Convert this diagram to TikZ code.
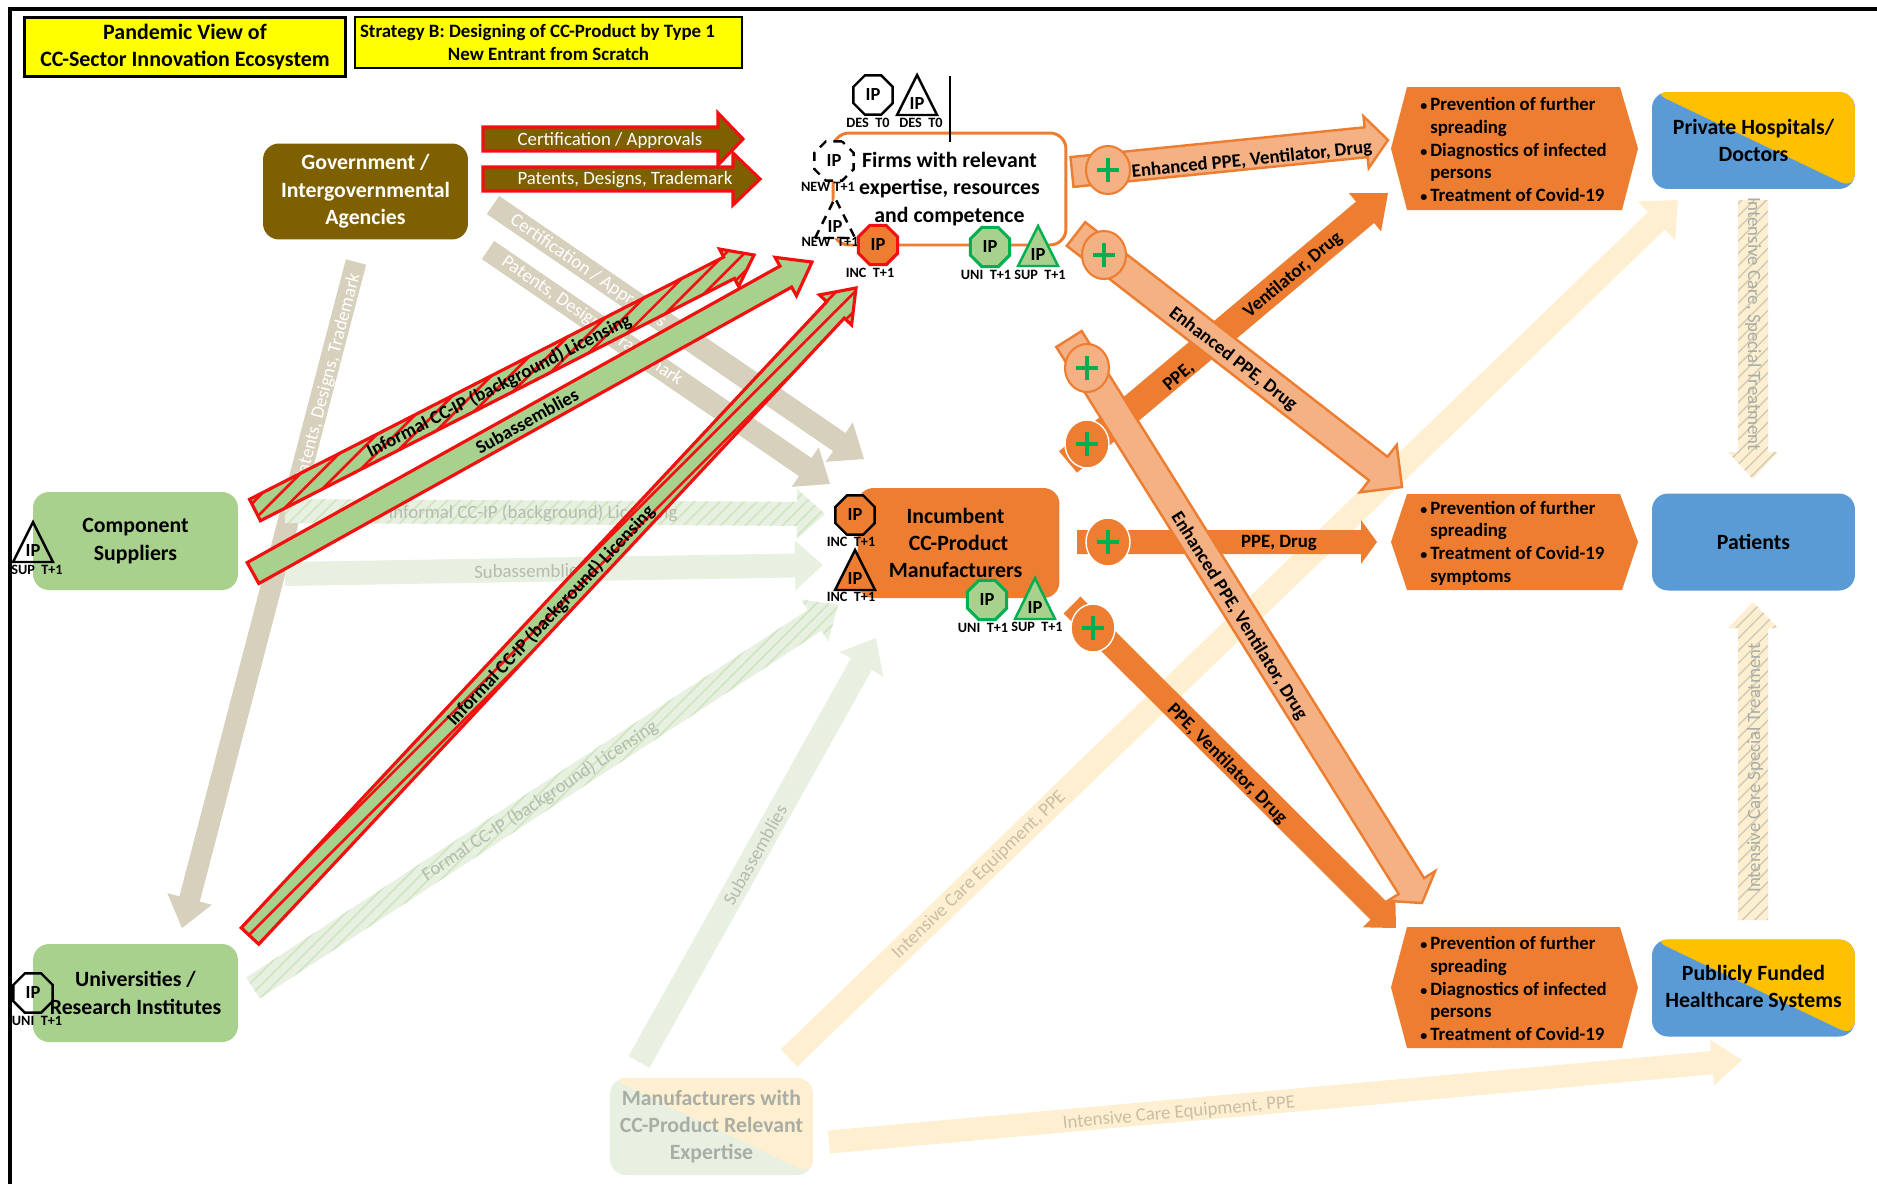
\documentclass[tikz,border=0pt]{standalone}
\usepackage{fontspec}
\setmainfont{Carlito}
\usetikzlibrary{calc,patterns.meta,shapes.geometric}
\definecolor{cbrown}{HTML}{7F6000}
\definecolor{cred}{HTML}{F01010}
\definecolor{ctan}{HTML}{D7D0BC}
\definecolor{cgreen}{HTML}{A9D18E}
\definecolor{cdgreen}{HTML}{00B050}
\definecolor{corange}{HTML}{ED7D31}
\definecolor{clight}{HTML}{F4B183}
\definecolor{cblue}{HTML}{5B9BD5}
\definecolor{cgold}{HTML}{FFC000}
\definecolor{cfgreen}{HTML}{E8F1E1}
\definecolor{cfyellow}{HTML}{FDEFCF}
\definecolor{chyel}{HTML}{FFFF00}
\definecolor{cftext}{HTML}{B4BCAD}
\definecolor{cytext}{HTML}{C8BFA5}
\definecolor{cgrey}{HTML}{A9ADA6}
\newcommand{\conn}[7]{%
  \coordinate (#1-s) at (#3);
  \coordinate (#1-e) at (#4);
  \pgfmathsetlengthmacro{\aw}{#5*0.01cm}%
  \pgfmathsetlengthmacro{\ah}{#6*0.01cm}%
  \pgfmathsetlengthmacro{\al}{#7*0.02cm}%
  \path[#2] let \p1=($(#1-e)-(#1-s)$),\n1={atan2(\y1,\x1)} in
    ($(#1-s)+(\n1+90:\aw)$)
    -- ($(#1-e)+(\n1+180:\al)+(\n1+90:\aw)$)
    -- ($(#1-e)+(\n1+180:\al)+(\n1+90:\ah)$)
    -- (#1-e)
    -- ($(#1-e)+(\n1+180:\al)+(\n1-90:\ah)$)
    -- ($(#1-e)+(\n1+180:\al)+(\n1-90:\aw)$)
    -- ($(#1-s)+(\n1-90:\aw)$) -- cycle;
}
\newcommand{\ipoct}[4]{\node[octo,#4] (#1) at (#2,#3) {IP};}
\newcommand{\iptri}[4]{%
  \draw[tri,#4] (#2-20,#3+20) -- (#2,#3-20) -- (#2+20,#3+20) -- cycle;
  \node[iplab] (#1) at (#2,#3+9) {IP};}
\newcommand{\iptag}[4]{\node[iptagst] (#1) at (#2,#3) {#4};}
\newcommand{\plusc}[4]{%
  \node[plusnode,#4] (#1) at (#2,#3) {};
  \draw[plusbar] ($(#1.center)+(-11,0)$) -- ($(#1.center)+(11,0)$);
  \draw[plusbar] ($(#1.center)+(0,-12)$) -- ($(#1.center)+(0,12)$);}
\newcommand{\hexb}[3]{%
  \fill[corange] (1407,#2) -- (1620,#2) -- (1638,{(#2+#3)/2}) -- (1622,#3) -- (1407,#3) -- (1391,{(#2+#3)/2}) -- cycle;
  \coordinate (#1) at (1420,{(#2+#3)/2+1});}
\newcommand{\hb}{\makebox[0.2cm][l]{\fontsize{8}{10}\selectfont•}}
\newcommand{\hi}{\hspace*{0.2cm}}
\tikzset{
  title/.style={draw=black,fill=chyel,line width=1.6pt,inner sep=0pt,minimum height=1.18cm,font=\bfseries},
  box/.style={rounded corners=0.32cm,inner sep=0pt,align=center,font=\fontsize{12.4}{15.6}\selectfont\bfseries},
  hexlab/.style={anchor=west,inner sep=0pt,align=left,font=\fontsize{10.7}{12.9}\selectfont\bfseries},
  lab/.style={inner sep=0pt,font=\fontsize{10.7}{12}\selectfont},
  blab/.style={lab,font=\fontsize{10.7}{12}\selectfont\bfseries},
  octo/.style={regular polygon,regular polygon sides=8,minimum size=0.85cm,inner sep=0pt,line width=1.4pt,draw=black,font=\fontsize{10.5}{11}\selectfont\bfseries},
  tri/.style={line width=1.4pt,draw=black,line join=miter},
  iplab/.style={inner sep=0pt,font=\fontsize{10.5}{11}\selectfont\bfseries},
  iptagst/.style={inner sep=0pt,font=\fontsize{8.1}{9}\selectfont\bfseries},
  newdash/.style={dash pattern=on 5pt off 4pt},
  incst/.style={fill=corange},
  redst/.style={draw=cred,fill=corange,line width=1.8pt},
  grnst/.style={draw=cdgreen,fill=cgreen,line width=1.8pt},
  plusnode/.style={ellipse,minimum width=0.88cm,minimum height=0.96cm,inner sep=0pt},
  pluslight/.style={fill=clight,draw=corange,line width=1.2pt},
  plusdark/.style={fill=corange,draw=white,line width=0.8pt},
  plusbar/.style={draw=cdgreen,line width=2.8pt},
  abrown/.style={fill=cbrown,draw=cred,line width=1.8pt},
  afadetan/.style={fill=ctan},
  afadegreen/.style={fill=cfgreen},
  afadeyel/.style={fill=cfyellow},
  agreen/.style={fill=cgreen,draw=cred,line width=1.8pt},
  ahatch/.style={preaction={fill=cgreen},pattern={Lines[angle=45,distance=7.5pt,line width=1.5pt]},pattern color=cred,draw=cred,line width=1.8pt},
  afhatch/.style={preaction={fill=cfgreen},pattern={Lines[angle=45,distance=5pt,line width=1pt]},pattern color=cgreen!55!white},
  ayhatch/.style={preaction={fill=cfyellow},pattern={Lines[angle=45,distance=5pt,line width=0.8pt]},pattern color=cgrey!55!cfyellow},
  alight/.style={fill=clight,draw=corange,line width=1.4pt},
  adark/.style={fill=corange},
}
\begin{document}
\begin{tikzpicture}[x=0.02cm,y=-0.02cm]
\useasboundingbox (0,0) rectangle (1877,1184);
\fill[white] (0,0) rectangle (1877,1184);
\coordinate (fa) at (10,1184); \coordinate (fb) at (10,9); \coordinate (fc) at (1877,9);
\draw[line width=2.2pt,black] (fa) -- (fb) -- (fc);

% faded arrows
\conn{g2u}{afadetan}{356,262}{182,928}{21}{46}{30}
\conn{g2ic}{afadetan}{493,205}{864,459}{22}{48}{30}
\conn{g2ip}{afadetan}{488,250}{830,484}{22}{48}{30}
\conn{c2ii}{afhatch}{285,511}{825,514}{24}{50}{28}
\conn{c2is}{afadegreen}{285,574}{823,565}{24}{50}{28}
\conn{u2if}{afhatch}{253,988}{838,605}{25}{50}{28}
\conn{m2is}{afadegreen}{639,1062}{876,638}{24}{50}{30}
\conn{m2p}{afadeyel}{789,1058}{1678,200}{24}{54}{30}
\conn{m2h}{afadeyel}{829,1142}{1742,1060}{23}{46}{30}
\conn{p2pt}{ayhatch}{1753,200}{1753,479}{30}{50}{27}
\conn{h2pt}{ayhatch}{1753,920}{1753,602}{30}{50}{26}

% labels of the faded arrows, beneath the strong arrows
\node[lab,white,rotate=75.4] (l1) at (328,378) {Patents, Designs, Trademark};
\node[lab,white,rotate=-34.4] (l2) at (588,271) {Certification / Approvals};
\node[lab,white,rotate=-34.4] (l3) at (592,321) {Patents, Designs, Trademark};
\node[lab,cftext] (l4) at (533,513) {Informal CC-IP (background) Licensing};
\node[lab,cftext,rotate=0.8] (l5) at (530,571) {Subassemblies};
\node[lab,cftext,rotate=33.2] (l6) at (540,801) {Formal CC-IP (background) Licensing};
\node[lab,cftext,rotate=60.8] (l7) at (755,855) {Subassemblies};
\node[lab,cytext,rotate=44] (l8) at (979,875) {Intensive Care Equipment, PPE};
\node[lab,cytext,rotate=5.2] (l9) at (1179,1113) {Intensive Care Equipment, PPE};
\node[lab,cgrey,rotate=-90] (l10) at (1753,324) {Intensive Care, Special Treatment};
\node[lab,cgrey,rotate=90] (l11) at (1755,768) {Intensive Care Special Treatment};

% orange arrows
\conn{a4}{adark}{1068,462}{1388,193}{28}{50}{30}
\conn{a5}{adark}{1077,542}{1377,542}{24}{44}{16}
\conn{a6}{adark}{1072,605}{1396,928}{24}{46}{24}
\conn{a1}{alight}{1072,172}{1388,140}{30}{52}{22}
\conn{a2}{alight}{1076,234}{1402,487}{30}{60}{30}
\conn{a3}{alight}{1069,339}{1422,903}{30}{56}{20}

% red-outlined arrows
\conn{gc}{abrown}{483,139}{743,139}{24}{52}{25}
\conn{gp}{abrown}{483,179}{760,179}{24}{52}{27}
\conn{c2f}{ahatch}{255,510}{754,255}{24}{42}{28}
\conn{s2f}{agreen}{253,573}{812,262}{24}{44}{30}
\conn{u2f}{ahatch}{250,936}{856,288}{24}{44}{30}

% labels of the strong arrows
\node[lab,white] (l12) at (610,140) {Certification / Approvals};
\node[lab,white] (l13) at (625,180) {Patents, Designs, Trademark};
\node[blab,rotate=27] (l14) at (499,386) {Informal CC-IP (background) Licensing};
\node[blab,rotate=29.1] (l15) at (527,421) {Subassemblies};
\node[blab,rotate=46.9] (l16) at (551,616) {Informal CC-IP (background) Licensing};
\node[blab,rotate=5.8] (l17) at (1252,160) {Enhanced PPE, Ventilator, Drug};
\node[blab,rotate=-37.8] (l18) at (1233,359) {Enhanced PPE, Drug};
\node[blab,rotate=-58] (l19) at (1239,616) {Enhanced PPE, Ventilator, Drug};
\node[blab,rotate=40] (l20) at (1179,377) {PPE,};
\node[blab,rotate=40] (l21) at (1293,275) {Ventilator, Drug};
\node[blab] (l22) at (1279,543) {PPE, Drug};
\node[blab,rotate=-45] (l23) at (1227,764) {PPE, Ventilator, Drug};

% title boxes
\node[title,minimum width=6.42cm,align=center,font=\fontsize{12.5}{15.6}\selectfont\bfseries] (t1) at (185,47) {Pandemic View of\\CC-Sector Innovation Ecosystem};
\node[title,minimum width=7.74cm,minimum height=1.02cm,align=center,font=\fontsize{10.75}{12.8}\selectfont\bfseries] (t2) at (548.5,42.5) {Strategy B: Designing of CC-Product by Type 1\hspace*{0.44cm}\\New Entrant from Scratch};

% main boxes
\node[box,fill=cbrown,text=white,minimum width=4.1cm,minimum height=1.92cm] (gov) at (365.5,191.5) {Government /\\Intergovernmental\\Agencies};
\node[box,fill=cgreen,minimum width=4.1cm,minimum height=1.96cm] (comp) at (135.5,541) {Component\\Suppliers};
\node[box,fill=cgreen,minimum width=4.1cm,minimum height=1.96cm] (uni) at (135.5,993) {Universities /\\Research Institutes};
\node[box,fill=cfgreen,text=cgrey,minimum width=4.06cm,minimum height=1.94cm,
  path picture={\fill[cfyellow] (path picture bounding box.north west) -- (path picture bounding box.north east) -- (path picture bounding box.south east) -- cycle;}] (manu) at (711.5,1126.5) {Manufacturers with\\CC-Product Relevant\\Expertise};
\node[box,draw=corange,fill=white,line width=1.7pt,minimum width=4.66cm,minimum height=2.24cm] (firms) at (949.5,189) {Firms with relevant\\expertise, resources\\and competence};
\node[box,fill=corange,minimum width=4.04cm,minimum height=2.2cm] (inc) at (958.5,543) {Incumbent\hspace*{0.12cm}\\CC-Product\hspace*{0.12cm}\\Manufacturers\hspace*{0.12cm}};
\node[box,fill=cblue,minimum width=4.06cm,minimum height=1.94cm,
  path picture={\fill[cgold] (path picture bounding box.north west) -- (path picture bounding box.north east) -- (path picture bounding box.south east) -- cycle;}] (priv) at (1753.5,140.5) {Private Hospitals/\\Doctors};
\node[box,fill=cblue,minimum width=4.06cm,minimum height=1.94cm] (pat) at (1753.5,542) {Patients};
\node[box,fill=cblue,minimum width=4.06cm,minimum height=1.94cm,
  path picture={\fill[cgold] (path picture bounding box.north west) -- (path picture bounding box.north east) -- (path picture bounding box.south east) -- cycle;}] (pub) at (1753.5,988) {Publicly Funded\\Healthcare Systems};

% outcome hexagons
\hexb{h1}{87}{210}
\hexb{h2}{494}{590}
\hexb{h3}{927}{1048}
\node[hexlab] (h1t) at (h1) {\hb Prevention of further\\\hi spreading\\\hb Diagnostics of infected\\\hi persons\\\hb Treatment of Covid-19};
\node[hexlab] (h2t) at (h2) {\hb Prevention of further\\\hi spreading\\\hb Treatment of Covid-19\\\hi symptoms};
\node[hexlab] (h3t) at (h3) {\hb Prevention of further\\\hi spreading\\\hb Diagnostics of infected\\\hi persons\\\hb Treatment of Covid-19};

% plus circles
\plusc{p1}{1108}{170}{pluslight}
\plusc{p2}{1104}{255}{pluslight}
\plusc{p3}{1087}{368}{pluslight}
\plusc{p4}{1087}{444}{plusdark}
\plusc{p5}{1108}{542}{plusdark}
\plusc{p6}{1093}{628}{plusdark}

% IP marks
\coordinate (va) at (950,76); \coordinate (vb) at (950,142);
\draw[line width=1.4pt,black] (va) -- (vb);
\ipoct{i1}{873}{95}{}
\iptag{i1t}{868}{123}{DES\ \ T0}
\iptri{i2}{917}{95}{}
\iptag{i2t}{921}{123}{DES\ \ T0}
\ipoct{i3}{834}{161}{fill=white,newdash}
\iptag{i3t}{828}{187}{NEW\ T+1}
\iptri{i4}{835}{218}{fill=white,newdash}
\iptag{i4t}{830}{242}{NEW\ \ T+1}
\ipoct{i5}{878}{245}{redst}
\iptag{i5t}{870}{273}{INC\ \ T+1}
\ipoct{i6}{990}{247}{grnst}
\iptag{i6t}{986}{275}{UNI\ \ T+1}
\draw[tri,draw=cdgreen,fill=cgreen] (1018,266) -- (1038,226) -- (1058,266) -- cycle;
\node[iplab] (i7) at (1038,255) {IP};
\iptag{i7t}{1040}{275}{SUP\ \ T+1}
\ipoct{i8}{855}{515}{incst}
\iptag{i8t}{851}{542}{INC\ \ T+1}
\draw[tri,fill=corange] (835,590) -- (855,550) -- (875,590) -- cycle;
\node[iplab] (i9) at (855,579) {IP};
\iptag{i9t}{851}{597}{INC\ \ T+1}
\ipoct{i10}{987}{600}{grnst}
\iptag{i10t}{983}{628}{UNI\ \ T+1}
\draw[tri,draw=cdgreen,fill=cgreen] (1015,619) -- (1035,578) -- (1055,619) -- cycle;
\node[iplab] (i11) at (1035,608) {IP};
\iptag{i11t}{1037}{627}{SUP\ \ T+1}
\iptri{i12}{33}{542}{}
\iptag{i12t}{37}{570}{SUP\ \ T+1}
\ipoct{i13}{33}{993}{}
\iptag{i13t}{37}{1021}{UNI\ \ T+1}
\end{tikzpicture}
\end{document}
